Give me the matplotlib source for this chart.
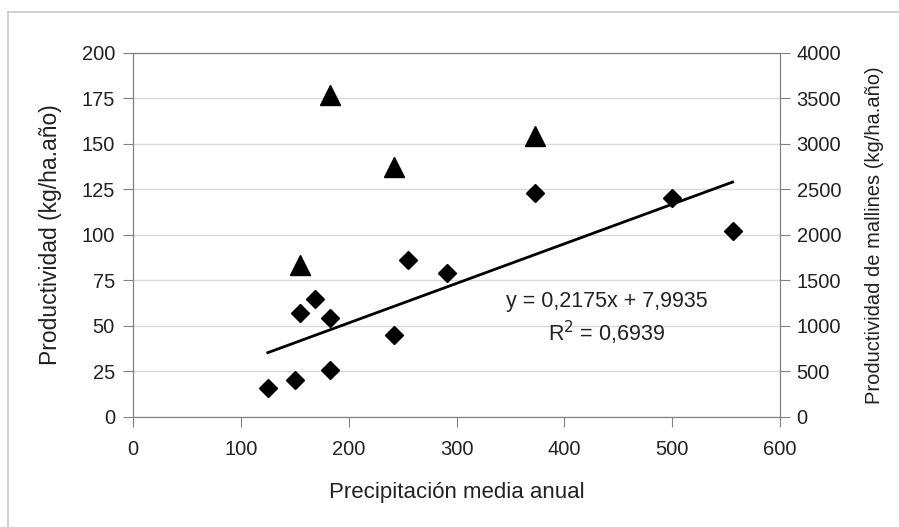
import numpy as np
import matplotlib.pyplot as plt
from matplotlib.lines import Line2D

plt.rcParams['font.family'] = ['Liberation Sans', 'DejaVu Sans']

# precipitation vs productivity (left axis, diamonds)
precip = [125, 150, 155, 169, 183, 183, 242, 255, 291, 373, 500, 556]
prod = [15.5, 20, 57, 64.5, 54.5, 25.5, 45, 86, 79, 123, 120, 102]

# precipitation vs mallines productivity (right axis, triangles)
precip_m = [155, 183, 242, 373]
prod_m = [1665, 3540, 2740, 3088]

# linear trend
slope = 0.2175
intercept = 7.9935
r2 = 0.6939

fig = plt.figure(figsize=(8.99, 5.27), dpi=100)
ax = fig.add_axes([133 / 899, 1 - 416.7 / 527, (780 - 133) / 899, (416.7 - 52.7) / 527])
ax2 = ax.twinx()

gray = '#808080'
ax.set_xlim(0, 600)
ax.set_ylim(0, 200)
ax2.set_ylim(0, 4000)
ax.set_xticks(np.arange(0, 601, 100))
ax.set_yticks(np.arange(0, 201, 25))
ax2.set_yticks(np.arange(0, 4001, 500))
ax.grid(axis='y', color='#d9d9d9', lw=1)
ax.set_axisbelow(True)

for a in (ax, ax2):
    for s in a.spines.values():
        s.set_color(gray)
    a.tick_params(direction='out', length=7, color=gray, labelsize=14.5, labelcolor='#222222')
ax.tick_params(axis='x', pad=10)
ax.tick_params(axis='y', pad=6)
ax2.tick_params(axis='y', pad=5)

ax.plot(precip, prod, 'D', color='black', markersize=9.2, zorder=3)
ax2.plot(precip_m, prod_m, '^', color='black', markersize=14.4, zorder=3)

xt = np.array([min(precip), max(precip)])
ax.plot(xt, slope * xt + intercept, color='black', lw=2, zorder=2)

ax.text(439, 63.3, 'y = 0,2175x + 7,9935', fontsize=15.5, ha='center', va='center', color='#222222')
ax.text(439, 45.8, 'R$^2$ = 0,6939', fontsize=15.5, ha='center', va='center', color='#222222')

ax.set_xlabel('Precipitación media anual', fontsize=16, color='#222222')
ax.set_ylabel('Productividad (kg/ha.año)', fontsize=16.5, color='#222222')
ax2.set_ylabel('Productividad de mallines (kg/ha.año)', fontsize=14.5, color='#222222')
ax.xaxis.set_label_coords(0.5, -0.18)
ax.yaxis.set_label_coords(-0.11, 0.5)
ax2.yaxis.set_label_coords(1.131, 0.5)

# outer chart border
fig.add_artist(Line2D([8 / 899, 8 / 899], [0, 1 - 12 / 527], transform=fig.transFigure, color='#c8c8c8', lw=1.2))
fig.add_artist(Line2D([8 / 899, 1], [1 - 12 / 527, 1 - 12 / 527], transform=fig.transFigure, color='#c8c8c8', lw=1.2))

fig.savefig('out.png', dpi=100)
